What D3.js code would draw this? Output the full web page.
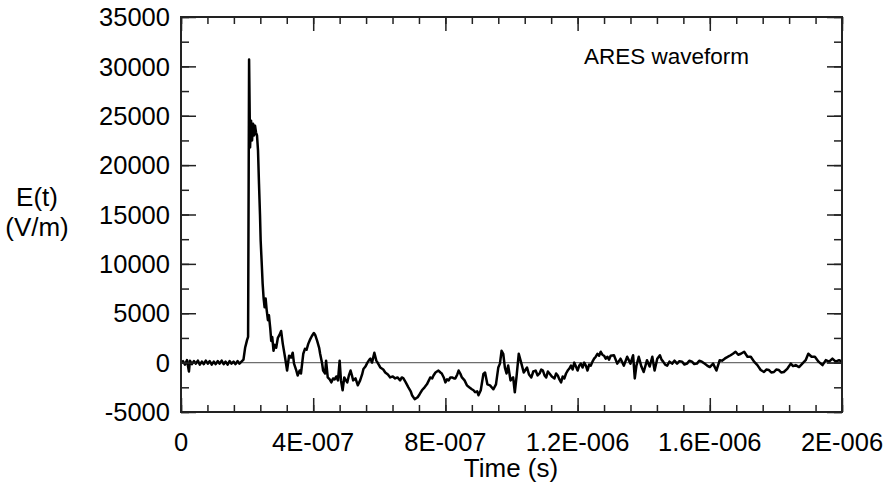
<!DOCTYPE html>
<html>
<head>
<meta charset="utf-8">
<script src="https://cdn.jsdelivr.net/npm/d3@7"></script>
<style>
  html, body { margin: 0; padding: 0; background: #fff; }
  svg { display: block; }
  text { font-family: "Liberation Sans", Arial, sans-serif; fill: #000; }
</style>
</head>
<body>
<svg id="chart" width="886" height="489"></svg>
<script>
// Sample times in nanoseconds
const timeNs = [
  0, 6, 12, 18, 24, 27, 33, 39, 45, 51, 57, 63, 69, 75, 81, 87, 93, 99, 105, 111,
  117, 123, 129, 135, 141, 147, 153, 159, 165, 171, 177, 183, 189, 194, 197, 200, 203, 206,
  209, 212, 215, 218, 221, 224, 227, 230, 233, 236, 239, 241, 245, 247, 250, 253, 256, 259,
  263, 266, 270, 273, 276, 280, 284, 288, 293, 298, 303, 308, 315, 321, 327, 333, 338, 342,
  348, 353, 359, 363, 370, 375, 380, 385, 390, 396, 402, 406, 412, 418, 421, 427, 430, 436,
  439, 444, 450, 455, 460, 465, 470, 475, 480, 484, 489, 494, 499, 503, 508, 513, 518, 521,
  528, 535, 542, 548, 552, 558, 564, 570, 573, 578, 585, 591, 593, 600, 603, 612, 618, 626,
  633, 641, 648, 655, 663, 668, 673, 680, 688, 695, 699, 707, 716, 722, 729, 737, 744, 750,
  754, 760, 764, 770, 779, 785, 789, 795, 800, 805, 810, 815, 820, 826, 830, 836, 840, 845,
  850, 858, 865, 872, 880, 885, 890, 896, 900, 907, 915, 920, 927, 935, 945, 953, 960, 965,
  970, 975, 980, 985, 990, 997, 1005, 1010, 1015, 1022, 1030, 1037, 1047, 1053, 1060, 1066,
  1073, 1079, 1085, 1090, 1095, 1100, 1105, 1110, 1115, 1122, 1130, 1135, 1140, 1145, 1150,
  1155, 1160, 1165, 1170, 1175, 1180, 1185, 1190, 1195, 1200, 1205, 1210, 1215, 1220, 1225,
  1230, 1235, 1240, 1245, 1250, 1255, 1260, 1265, 1270, 1275, 1280, 1285, 1290, 1295, 1300,
  1310, 1320, 1330, 1340, 1350, 1360, 1368, 1373, 1378, 1385, 1393, 1400, 1410, 1418, 1426,
  1433, 1441, 1449, 1454, 1459, 1465, 1471, 1478, 1486, 1493, 1501, 1508, 1516, 1523, 1531,
  1538, 1546, 1553, 1561, 1568, 1576, 1584, 1592, 1600, 1610, 1620, 1630, 1637, 1645, 1650,
  1655, 1663, 1670, 1678, 1686, 1694, 1704, 1714, 1724, 1734, 1744, 1754, 1764, 1771, 1779,
  1786, 1794, 1801, 1809, 1816, 1824, 1835, 1845, 1852, 1860, 1870, 1880, 1890, 1898, 1908,
  1918, 1929, 1941, 1951, 1961, 1971, 1981, 1991, 2000
];

// Electric field, V/m
const fieldVm = [
  0, 150, -200, 250, -900, 200, -150, 150, -100, 200, -200, 100, -150, 200, -100, 150, -200, 100, -150, 150,
  -100, 200, -150, 100, -200, 150, -100, 100, -150, 150, -100, 100, 300, 1500, 1900, 2300, 2600, 30700,
  21800, 24500, 22500, 24200, 23000, 24000, 23300, 23000, 21500, 18100, 15000, 12400, 9500, 8000, 6500, 5600, 6500, 5400,
  4300, 4800, 3500, 2200, 2600, 1200, 1800, 1500, 2500, 2800, 3200, 1900, 500, -800, 700, 500, 1000, -100,
  -700, -1300, -800, -1100, 900, 1400, 1300, 1900, 2300, 2700, 3000, 2800, 2200, 1500, 900, -100, -800, -1100,
  200, -1500, -1700, -2000, -1600, -1700, -1400, -1800, 200, -1800, -2800, -1500, -1800, -2000, -1300, -800, -1400, -1800,
  -1600, -2300, -1800, -1200, -650, -400, 0, 300, 400, 0, 1000, 200, 100, -300, -500, -700, -1000, -1200,
  -1500, -1400, -1600, -1500, -1800, -1500, -1600, -2000, -2500, -2900, -3300, -3700, -3500, -3200, -2800, -2500, -2200, -1800,
  -1500, -1600, -1300, -1000, -800, -1000, -1100, -1500, -2000, -1700, -1800, -1500, -1500, -1600, -1600, -1200, -800, -1100,
  -1500, -1800, -2300, -2500, -2700, -2800, -3000, -2900, -3300, -2800, -1150, -1000, -2200, -2300, -2700, -2200, -500, -100,
  1200, 900, -500, -1100, -300, -1800, -1500, -3000, -1500, 900, -100, -1000, -500, -1200, -1500, -900,
  -800, -1300, -1100, -700, -800, -1300, -1500, -900, -1100, -1400, -1600, -1100, -1300, -1700, -2000,
  -1400, -1600, -1100, -800, -600, -300, -700, 0, -400, -800, -300, -100, -500, 0, -300,
  -800, -200, -300, 100, 400, 600, 900, 700, 1100, 800, 700, 400, 600, 300, 700,
  750, -100, 400, -300, 600, -100, 750, -1600, -300, 600, -400, -950, 250, -400, 600,
  -800, 400, 750, 300, 100, -200, -300, 100, -100, 200, -100, 150, 100, -200, -100,
  200, 100, -150, -100, 200, 100, -100, -300, -450, -100, -800, 250, 200, 400, 500,
  600, 750, 900, 1100, 800, 900, 1100, 600, 600, 100, -250, -750, -950, -700, -750,
  -1000, -950, -700, -750, -1000, -950, -600, -100, -350, -250, -450, -100, 250, 900, 600,
  600, 100, -250, 250, 100, 400, 100, 250, 100
];

// Axis ticks
const xMajorTicks = [0, 4e-7, 8e-7, 1.2e-6, 1.6e-6, 2e-6];
const xTickLabels = ["0", "4E-007", "8E-007", "1.2E-006", "1.6E-006", "2E-006"];
const xMinorStep = 8e-8;
const yMajorTicks = [-5000, 0, 5000, 10000, 15000, 20000, 25000, 30000, 35000];
const yMinorStep = 2500;

const svg = d3.select("#chart");
const plotL = 181, plotR = 842, plotT = 17, plotB = 412;

const x = d3.scaleLinear().domain([0, 2e-6]).range([plotL, plotR]);
const y = d3.scaleLinear().domain([-5000, 35000]).range([plotB, plotT]);

const points = timeNs.map((t, i) => ({ t: t * 1e-9, e: fieldVm[i] }));

const xMinor = d3.range(0, 2e-6 + 1e-12, xMinorStep);
const yMinor = d3.range(-5000, 35000 + 1, yMinorStep);

// zero reference line
svg.append("line")
  .attr("x1", plotL).attr("x2", plotR)
  .attr("y1", y(0)).attr("y2", y(0))
  .attr("stroke", "#6e6e6e").attr("stroke-width", 1.3);

// waveform
const line = d3.line().x(d => x(d.t)).y(d => y(d.e));
svg.append("path")
  .datum(points)
  .attr("d", line)
  .attr("fill", "none")
  .attr("stroke", "#000")
  .attr("stroke-width", 2.5)
  .attr("stroke-linejoin", "round");

// inward ticks on all four sides
function tickAxis(gen, tr) {
  const g = svg.append("g").attr("transform", tr).call(gen);
  g.select(".domain").remove();
  g.selectAll(".tick line").attr("stroke", "#222").attr("stroke-width", 1.5);
  g.selectAll(".tick text").remove();
  return g;
}
tickAxis(d3.axisBottom(x).tickValues(xMinor).tickSize(-7), `translate(0,${plotB})`);
tickAxis(d3.axisBottom(x).tickValues(xMajorTicks).tickSize(-14), `translate(0,${plotB})`);
tickAxis(d3.axisTop(x).tickValues(xMinor).tickSize(-7), `translate(0,${plotT})`);
tickAxis(d3.axisTop(x).tickValues(xMajorTicks).tickSize(-14), `translate(0,${plotT})`);
tickAxis(d3.axisLeft(y).tickValues(yMinor).tickSize(-8), `translate(${plotL},0)`);
tickAxis(d3.axisLeft(y).tickValues(yMajorTicks).tickSize(-15), `translate(${plotL},0)`);
tickAxis(d3.axisRight(y).tickValues(yMinor).tickSize(-8), `translate(${plotR},0)`);
tickAxis(d3.axisRight(y).tickValues(yMajorTicks).tickSize(-15), `translate(${plotR},0)`);

// frame
svg.append("rect")
  .attr("x", plotL).attr("y", plotT)
  .attr("width", plotR - plotL).attr("height", plotB - plotT)
  .attr("fill", "none").attr("stroke", "#222").attr("stroke-width", 2);

// tick labels
svg.append("g").selectAll("text")
  .data(yMajorTicks).join("text")
  .attr("x", plotL - 11).attr("y", d => y(d))
  .attr("dy", "0.36em")
  .attr("text-anchor", "end")
  .attr("font-size", 25.5)
  .text(d => d);

svg.append("g").selectAll("text")
  .data(xMajorTicks).join("text")
  .attr("x", d => x(d)).attr("y", 451)
  .attr("text-anchor", "middle")
  .attr("font-size", 25.5)
  .text((d, i) => xTickLabels[i]);

// axis titles
svg.append("text").attr("x", 511).attr("y", 477)
  .attr("text-anchor", "middle").attr("font-size", 26).text("Time (s)");
svg.append("text").attr("x", 37).attr("y", 206)
  .attr("text-anchor", "middle").attr("font-size", 26).text("E(t)");
svg.append("text").attr("x", 37).attr("y", 236)
  .attr("text-anchor", "middle").attr("font-size", 26).text("(V/m)");

// annotation
svg.append("text").attr("x", 584).attr("y", 64)
  .attr("font-size", 22.5).text("ARES waveform");
</script>
</body>
</html>
